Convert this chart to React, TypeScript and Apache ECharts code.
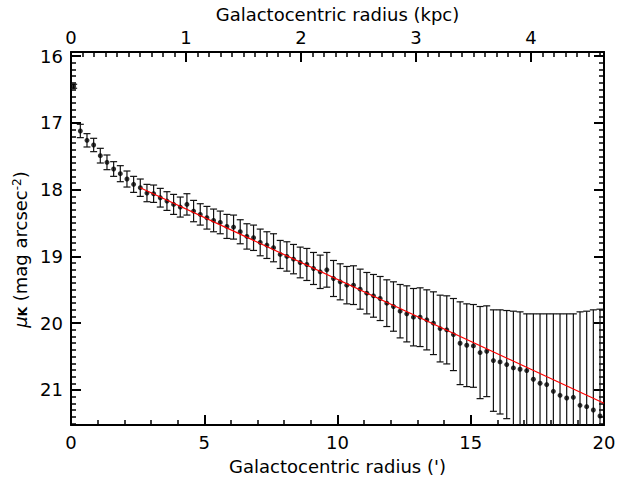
import React, { useEffect, useRef } from "react";
import * as echarts from "echarts";

// Galactocentric radius of each annulus (arcmin)
const radiusArcmin = [
  0.1, 0.35, 0.6, 0.85, 1.1, 1.35, 1.6, 1.85, 2.1, 2.35,
  2.6, 2.85, 3.1, 3.35, 3.6, 3.85, 4.1, 4.35, 4.6, 4.85,
  5.1, 5.35, 5.6, 5.85, 6.1, 6.35, 6.6, 6.85, 7.1, 7.35,
  7.6, 7.85, 8.1, 8.35, 8.6, 8.85, 9.1, 9.35, 9.6, 9.85,
  10.1, 10.35, 10.6, 10.85, 11.1, 11.35, 11.6, 11.85, 12.1, 12.35,
  12.6, 12.85, 13.1, 13.35, 13.6, 13.85, 14.1, 14.35, 14.6, 14.85,
  15.1, 15.35, 15.6, 15.85, 16.1, 16.35, 16.6, 16.85, 17.1, 17.35,
  17.6, 17.85, 18.1, 18.35, 18.6, 18.85, 19.1, 19.35, 19.6, 19.85,
];

// K-band surface brightness (mag arcsec^-2)
const muK = [
  16.45, 17.12, 17.26, 17.33, 17.49, 17.59, 17.69, 17.76, 17.84, 17.92,
  17.97, 18.05, 18.06, 18.12, 18.17, 18.22, 18.26, 18.22, 18.32, 18.37,
  18.42, 18.46, 18.49, 18.55, 18.56, 18.63, 18.70, 18.72, 18.79, 18.83,
  18.87, 18.97, 19.00, 19.04, 19.09, 19.12, 19.18, 19.23, 19.20, 19.33,
  19.38, 19.43, 19.43, 19.49, 19.55, 19.59, 19.63, 19.70, 19.75, 19.82,
  19.86, 19.91, 19.91, 19.95, 20.00, 20.08, 20.10, 20.17, 20.30, 20.33,
  20.34, 20.44, 20.42, 20.56, 20.58, 20.62, 20.67, 20.69, 20.71, 20.84,
  20.90, 20.92, 21.02, 21.08, 21.12, 21.11, 21.23, 21.25, 21.30, 21.39,
];

// 1-sigma error (mag)
const muKErr = [
  0.03, 0.10, 0.10, 0.10, 0.11, 0.11, 0.11, 0.12, 0.12, 0.12,
  0.13, 0.13, 0.13, 0.14, 0.14, 0.15, 0.15, 0.16, 0.16, 0.16,
  0.17, 0.17, 0.17, 0.18, 0.18, 0.18, 0.19, 0.19, 0.20, 0.20,
  0.21, 0.21, 0.22, 0.22, 0.23, 0.24, 0.24, 0.25, 0.26, 0.27,
  0.27, 0.28, 0.29, 0.30, 0.31, 0.32, 0.33, 0.35, 0.37, 0.40,
  0.42, 0.43, 0.44, 0.45, 0.47, 0.50, 0.51, 0.54, 0.62, 0.62,
  0.62, 0.69, 0.68, 0.76, 0.78, 0.81, 0.85, 0.86, 0.85, 0.98,
  1.04, 1.06, 1.16, 1.22, 1.26, 1.25, 1.40, 1.43, 1.50, 1.60,
];

// Exponential-disc fit (straight line in magnitudes)
const fitRadius = [2.6, 20];
const fitMu = [17.97, 21.2];

// Axes
const xMajorTicks = [0, 5, 10, 15, 20];
const yMajorTicks = [16, 17, 18, 19, 20, 21];
const kpcMajorTicks = [0, 1, 2, 3, 4];
const X_MIN = 0;
const X_MAX = 20;
const Y_MIN = 15.937;
const Y_MAX = 21.525;
const KPC_MAX = 4.635;

function minorValues(min: number, max: number, step: number, majors: number[]) {
  const out: number[] = [];
  const n = Math.round((max - min) / step);
  for (let i = 0; i <= n; i++) {
    const v = Math.round((min + i * step) * 1000) / 1000;
    if (!majors.some((m) => Math.abs(m - v) < 1e-6)) out.push(v);
  }
  return out;
}

const FONT = "DejaVu Sans";
const FS = 18;

export default function App() {
  const ref = useRef<HTMLDivElement>(null);

  useEffect(() => {
    if (!ref.current) return;
    const chart = echarts.init(ref.current, null, { renderer: "svg" });

    const xMinor = minorValues(1, 19, 1, xMajorTicks);
    const yMinor = minorValues(16, 21.5, 0.1, yMajorTicks);
    const kMinor = minorValues(0.1, 4.6, 0.1, kpcMajorTicks);

    const line = { show: true, onZero: false, lineStyle: { color: "#000", width: 2 } };
    const noLine = { show: false, onZero: false };
    const label = { color: "#000", fontFamily: FONT, fontSize: FS };

    const majTick = (vals: number[]) => ({
      show: true,
      inside: true,
      length: 10,
      customValues: vals,
      lineStyle: { color: "#000", width: 2 },
    });
    const minTick = (vals: number[]) => ({
      show: true,
      inside: true,
      length: 5,
      customValues: vals,
      lineStyle: { color: "#000", width: 1.5 },
    });

    const errData = radiusArcmin.map((r, i) => [r, muK[i], muKErr[i]]);
    const ptData = radiusArcmin.map((r, i) => [r, muK[i]]);
    const fitData = fitRadius.map((r, i) => [r, fitMu[i]]);

    const baseX = { type: "value", min: X_MIN, max: X_MAX, splitLine: { show: false } };
    const baseK = { type: "value", min: 0, max: KPC_MAX, splitLine: { show: false } };
    const baseY = { type: "value", min: Y_MIN, max: Y_MAX, inverse: true, splitLine: { show: false } };

    chart.setOption({
      animation: false,
      backgroundColor: "#fff",
      textStyle: { fontFamily: FONT },
      grid: { left: 71, right: 25, top: 51, bottom: 49, containLabel: false },
      xAxis: [
        {
          ...baseX,
          position: "bottom",
          axisLine: line,
          axisTick: majTick(xMajorTicks),
          axisLabel: { ...label, margin: 8, customValues: xMajorTicks },
          name: "Galactocentric radius (')",
          nameLocation: "middle",
          nameGap: 32,
          nameTextStyle: { ...label },
        },
        {
          ...baseX,
          position: "bottom",
          axisLine: noLine,
          axisTick: minTick(xMinor),
          axisLabel: { show: false },
        },
        {
          ...baseK,
          position: "top",
          axisLine: line,
          axisTick: majTick(kpcMajorTicks),
          axisLabel: { ...label, margin: 6, customValues: kpcMajorTicks },
          name: "Galactocentric radius (kpc)",
          nameLocation: "middle",
          nameGap: 29,
          nameTextStyle: { ...label },
        },
        {
          ...baseK,
          position: "top",
          axisLine: noLine,
          axisTick: minTick(kMinor),
          axisLabel: { show: false },
        },
      ],
      yAxis: [
        {
          ...baseY,
          position: "left",
          axisLine: line,
          axisTick: majTick(yMajorTicks),
          axisLabel: { ...label, margin: 8, customValues: yMajorTicks },
          name: "{i|μ}{sub|K} (mag arcsec{sup|-2})",
          nameLocation: "middle",
          nameRotate: 90,
          nameGap: 38,
          nameTextStyle: {
            ...label,
            padding: [0, 22, 0, 0],
            rich: {
              i: { fontFamily: FONT, fontSize: FS, fontStyle: "italic", color: "#000" },
              sub: { fontFamily: FONT, fontSize: 12, color: "#000", verticalAlign: "bottom", fontWeight: "bold" },
              sup: { fontFamily: FONT, fontSize: 12, color: "#000", verticalAlign: "top" },
            },
          },
        },
        {
          ...baseY,
          position: "left",
          axisLine: noLine,
          axisTick: minTick(yMinor),
          axisLabel: { show: false },
        },
        {
          ...baseY,
          position: "right",
          axisLine: line,
          axisTick: majTick(yMajorTicks),
          axisLabel: { show: false },
        },
        {
          ...baseY,
          position: "right",
          axisLine: noLine,
          axisTick: minTick(yMinor),
          axisLabel: { show: false },
        },
      ],
      series: [
        {
          type: "custom",
          xAxisIndex: 0,
          yAxisIndex: 0,
          clip: true,
          silent: true,
          encode: { x: 0, y: 1 },
          data: errData,
          renderItem: (params: any, api: any) => {
            const x = api.value(0);
            const y = api.value(1);
            const e = api.value(2);
            const a = api.coord([x, y - e]);
            const b = api.coord([x, y + e]);
            const hw = 3.5;
            const style = { stroke: "#111", lineWidth: 1.2 };
            return {
              type: "group",
              children: [
                { type: "line", shape: { x1: a[0], y1: a[1], x2: b[0], y2: b[1] }, style },
                { type: "line", shape: { x1: a[0] - hw, y1: a[1], x2: a[0] + hw, y2: a[1] }, style },
                { type: "line", shape: { x1: b[0] - hw, y1: b[1], x2: b[0] + hw, y2: b[1] }, style },
              ],
            };
          },
        },
        {
          type: "line",
          xAxisIndex: 0,
          yAxisIndex: 0,
          data: fitData,
          symbol: "none",
          silent: true,
          clip: true,
          lineStyle: { color: "#ff0000", width: 1.2 },
        },
        {
          type: "scatter",
          xAxisIndex: 0,
          yAxisIndex: 0,
          data: ptData,
          symbol: "circle",
          symbolSize: 5,
          silent: true,
          clip: true,
          itemStyle: { color: "#000" },
        },
      ],
    });

    return () => chart.dispose();
  }, []);

  return (
    <div
      ref={ref}
      style={{ position: "fixed", left: 0, top: 0, width: 629, height: 480, background: "#fff" }}
    />
  );
}
